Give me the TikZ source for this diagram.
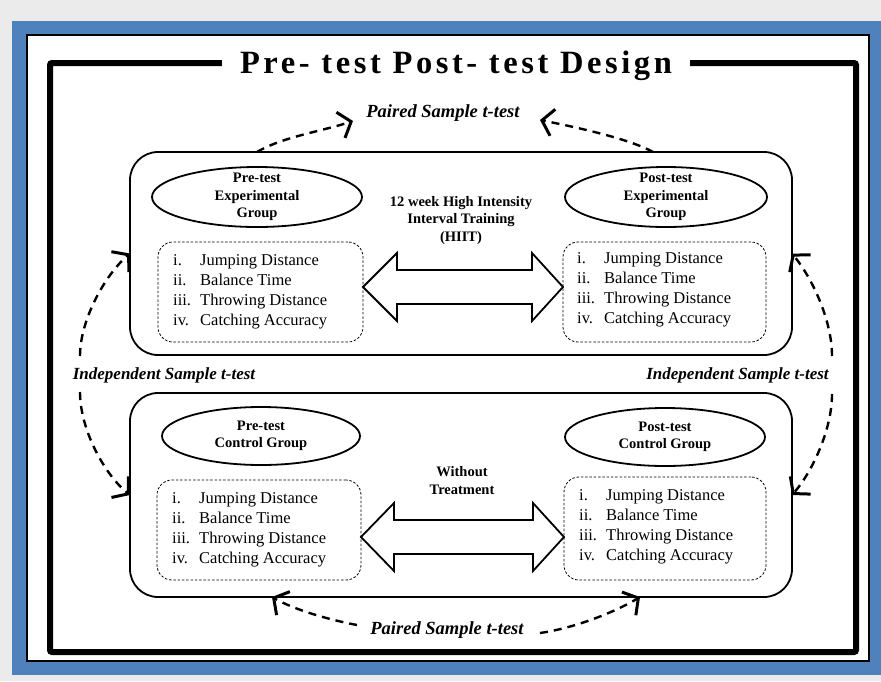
\documentclass[tikz,border=0pt]{standalone}
\usepackage{fontspec}
\setmainfont{Liberation Serif}
\newfontfamily\titlefont[LetterSpace=11]{Liberation Serif}
\usetikzlibrary{shapes.geometric,arrows.meta,calc}
\definecolor{bggray}{RGB}{235,235,235}
\definecolor{frameblue}{RGB}{79,129,189}
\newcommand{\itm}[2]{\makebox[27pt][l]{#1}#2}
\begin{document}
\begin{tikzpicture}[x=1pt,y=-1pt,
  groupbox/.style={draw,line width=1.8pt,rounded corners=28pt,inner sep=0pt,outer sep=0pt},
  listbox/.style={draw,line width=0.8pt,dash pattern=on 2.5pt off 1.8pt,rounded corners=15pt,inner sep=0pt,outer sep=0pt},
  grp/.style={ellipse,draw,line width=1.8pt,inner sep=0pt,outer sep=0pt},
  grptext/.style={font=\fontsize{14.5}{17.5}\selectfont\bfseries,align=center,inner sep=0pt},
  listtext/.style={font=\fontsize{16.5}{20}\selectfont,align=left,inner sep=0pt,anchor=west},
  midtext/.style={font=\fontsize{14.5}{17.5}\selectfont\bfseries,align=center,inner sep=0pt},
  testlabel/.style={font=\fontsize{18.5}{20}\selectfont\bfseries\itshape,inner sep=0pt},
  indlabel/.style={font=\fontsize{17}{20}\selectfont\bfseries\itshape,inner sep=0pt},
  blockarrow/.style={draw,line width=1.8pt,fill=white,line join=miter},
  testarc/.style={draw,line width=2.4pt,dash pattern=on 8pt off 6pt,-{Straight Barb[length=11pt,width=27pt,line width=3pt]}},
]
\useasboundingbox (0,0) rectangle (881,681);
\fill[bggray] (0,0) rectangle (881,681);
\fill[frameblue] (12,21) rectangle (881,675);
\draw[fill=white,line width=1.5pt] (27,35) rectangle (869,661);
\draw[line width=6pt,rounded corners=2pt] (50,63) rectangle (856,652);
\node[fill=white,inner xsep=18pt,inner ysep=2pt,anchor=base,font=\titlefont\fontsize{32.5}{36}\selectfont\bfseries] (title) at (456,73) {Pre- test Post- test Design};

% group boxes
\node[groupbox,minimum width=662pt,minimum height=203pt] (expbox) at (461,253.5) {};
\node[groupbox,minimum width=662pt,minimum height=204pt] (conbox) at (461,495) {};

% ellipses
\node[grp,minimum width=210pt,minimum height=60pt] (preexp) at (257,197) {};
\node[grptext] (preexpT) at (preexp) {Pre-test\\Experimental\\Group};
\node[grp,minimum width=202pt,minimum height=60pt] (postexp) at (666,197) {};
\node[grptext] (postexpT) at (postexp) {Post-test\\Experimental\\Group};
\node[grp,minimum width=198pt,minimum height=58pt] (precon) at (261,436) {};
\node[grptext] (preconT) at (precon) {Pre-test\\Control Group};
\node[grp,minimum width=200pt,minimum height=58pt] (postcon) at (665,437) {};
\node[grptext] (postconT) at (postcon) {Post-test\\Control Group};

% list boxes
\node[listbox,minimum width=205pt,minimum height=100pt] (preexpL) at (260.5,292) {};
\node[listbox,minimum width=203pt,minimum height=100pt] (postexpL) at (664.5,292) {};
\node[listbox,minimum width=204pt,minimum height=100pt] (preconL) at (259,530) {};
\node[listbox,minimum width=202pt,minimum height=103pt] (postconL) at (665,528.5) {};

\node[listtext] (preexpLT) at (173,292) {\itm{i.}{Jumping Distance}\\\itm{ii.}{Balance Time}\\\itm{iii.}{Throwing Distance}\\\itm{iv.}{Catching Accuracy}};
\node[listtext] (postexpLT) at (577,290) {\itm{i.}{Jumping Distance}\\\itm{ii.}{Balance Time}\\\itm{iii.}{Throwing Distance}\\\itm{iv.}{Catching Accuracy}};
\node[listtext] (preconLT) at (172,529.5) {\itm{i.}{Jumping Distance}\\\itm{ii.}{Balance Time}\\\itm{iii.}{Throwing Distance}\\\itm{iv.}{Catching Accuracy}};
\node[listtext] (postconLT) at (579,527) {\itm{i.}{Jumping Distance}\\\itm{ii.}{Balance Time}\\\itm{iii.}{Throwing Distance}\\\itm{iv.}{Catching Accuracy}};

% middle texts
\node[midtext] (hiit) at (461,220.5) {12 week High Intensity\\Interval Training\\(HIIT)};
\node[midtext] (without) at (462,480.5) {Without\\Treatment};

% block double arrows
\coordinate (a1L) at ([yshift=5pt]preexpL.east);
\coordinate (a1R) at ([yshift=5pt]postexpL.west);
\draw[blockarrow] (a1L) -- ($(a1L)+(34,-34)$) -- ($(a1L)+(34,-17)$) -- ($(a1R)+(-31,-17)$) -- ($(a1R)+(-31,-34)$) -- (a1R) -- ($(a1R)+(-31,34)$) -- ($(a1R)+(-31,17)$) -- ($(a1L)+(34,17)$) -- ($(a1L)+(34,34)$) -- cycle;
\coordinate (a2L) at ([yshift=-7pt]preconL.east);
\coordinate (a2R) at ([yshift=-8.5pt]postconL.west);
\draw[blockarrow] (a2L) -- ($(a2L)+(33,-34)$) -- ($(a2L)+(33,-17)$) -- ($(a2R)+(-31,-17)$) -- ($(a2R)+(-31,-34)$) -- (a2R) -- ($(a2R)+(-31,34)$) -- ($(a2R)+(-31,17)$) -- ($(a2L)+(33,17)$) -- ($(a2L)+(33,34)$) -- cycle;

% test labels
\node[testlabel] (pairedTop) at (443,113) {Paired Sample t-test};
\node[testlabel] (pairedBot) at (447,630) {Paired Sample t-test};
\node[indlabel] (indL) at (164,375) {Independent Sample t-test};
\node[indlabel] (indR) at (737.5,375) {Independent Sample t-test};

% arc end points
\coordinate (ptLs) at ($(expbox.north)+(-204,0)$);
\coordinate (ptLe) at (353,121);
\coordinate (ptRs) at ($(expbox.north)+(192,0)$);
\coordinate (ptRe) at (540,120);
\coordinate (pbLs) at (357,625);
\coordinate (pbLe) at ($(conbox.south)+(-189,0)$);
\coordinate (pbRs) at (540,633);
\coordinate (pbRe) at ($(conbox.south)+(179,0)$);
\coordinate (iLu) at (80,356);
\coordinate (iLd) at (80,392);
\coordinate (iRu) at (832,356);
\coordinate (iRd) at (832,394);

\draw[testarc] (ptLs) .. controls (282,137) and (323,131) .. (ptLe);
\draw[testarc] (ptRs) .. controls (628,138) and (570,126) .. (ptRe);
\draw[testarc] (pbLs) .. controls (330,620) and (295,610) .. (pbLe);
\draw[testarc] (pbRs) .. controls (575,628) and (615,612) .. (pbRe);
\draw[testarc] (iLu) .. controls (80,320) and (105,275) .. (expbox.west);
\draw[testarc] (iLd) .. controls (80,430) and (105,475) .. (conbox.west);
\draw[testarc] (iRu) .. controls (832,320) and (812,278) .. (expbox.east);
\draw[testarc] (iRd) .. controls (832,430) and (812,472) .. (conbox.east);
\end{tikzpicture}
\end{document}
